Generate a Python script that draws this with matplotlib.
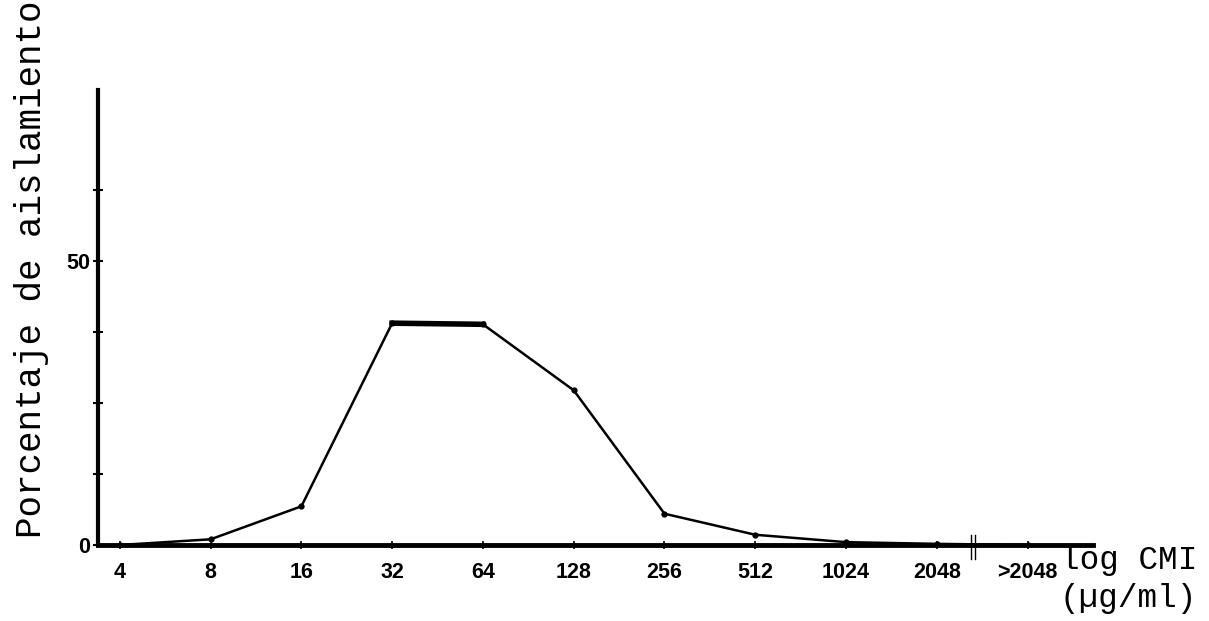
import matplotlib
matplotlib.use("Agg")
import matplotlib.pyplot as plt
import matplotlib.transforms as mtransforms

# MIC categories (µg/ml) and percentage of isolates at each
categories = ["4", "8", "16", "32", "64", "128", "256", "512", "1024", "2048", ">2048"]
percent = [0.0, 1.0, 6.8, 39.0, 38.8, 27.2, 5.5, 1.8, 0.5, 0.2, 0.0]

y_ticks = [0, 12.5, 25, 37.5, 50, 62.5]
y_tick_labels = ["0", "", "", "", "50", ""]

fig = plt.figure(figsize=(12.09, 6.21), dpi=100)
ax = fig.add_axes([0.0811, 0.1224, 0.8229, 0.7327])

x = list(range(len(categories)))
ax.plot(x, percent, color="black", linewidth=1.8, marker="o", markersize=3.5,
        solid_joinstyle="round", zorder=3)
# heavier plateau between 32 and 64
ax.plot(x[3:5], percent[3:5], color="black", linewidth=4.0, zorder=3)

ax.set_xlim(-0.24, 10.72)
ax.set_ylim(0, 80)

for side in ("top", "right"):
    ax.spines[side].set_visible(False)
ax.spines["left"].set_linewidth(3.0)
ax.spines["bottom"].set_linewidth(3.5)

tick_font = dict(family="Liberation Sans", weight="bold", size=15.5)
ax.set_xticks(x)
ax.set_xticklabels(categories, **tick_font)
ax.set_yticks(y_ticks)
ax.set_yticklabels(y_tick_labels, **tick_font)
ax.tick_params(axis="x", direction="inout", length=6, width=1.2, pad=9)
ax.tick_params(axis="y", direction="inout", length=7, width=1.5, pad=2)

# axis break mark on the x axis before the open-ended class
trans = mtransforms.blended_transform_factory(ax.transData, ax.transAxes)
for dx in (-0.02, 0.02):
    ax.plot([9.4 + dx, 9.4 + dx], [-0.03, 0.022], color="black", linewidth=1.0,
            transform=trans, clip_on=False, zorder=4)

fig.text(0.026, 0.566, "Porcentaje de aislamiento", rotation=90,
         ha="center", va="center", family="Liberation Mono", size=25.8)
fig.text(0.990, 0.098, "log CMI", ha="right", va="center",
         family="Liberation Mono", size=23.5)
fig.text(0.990, 0.036, "(µg/ml)", ha="right", va="center",
         family="Liberation Mono", size=23.5)

fig.savefig("out.png", dpi=100, facecolor="white")
